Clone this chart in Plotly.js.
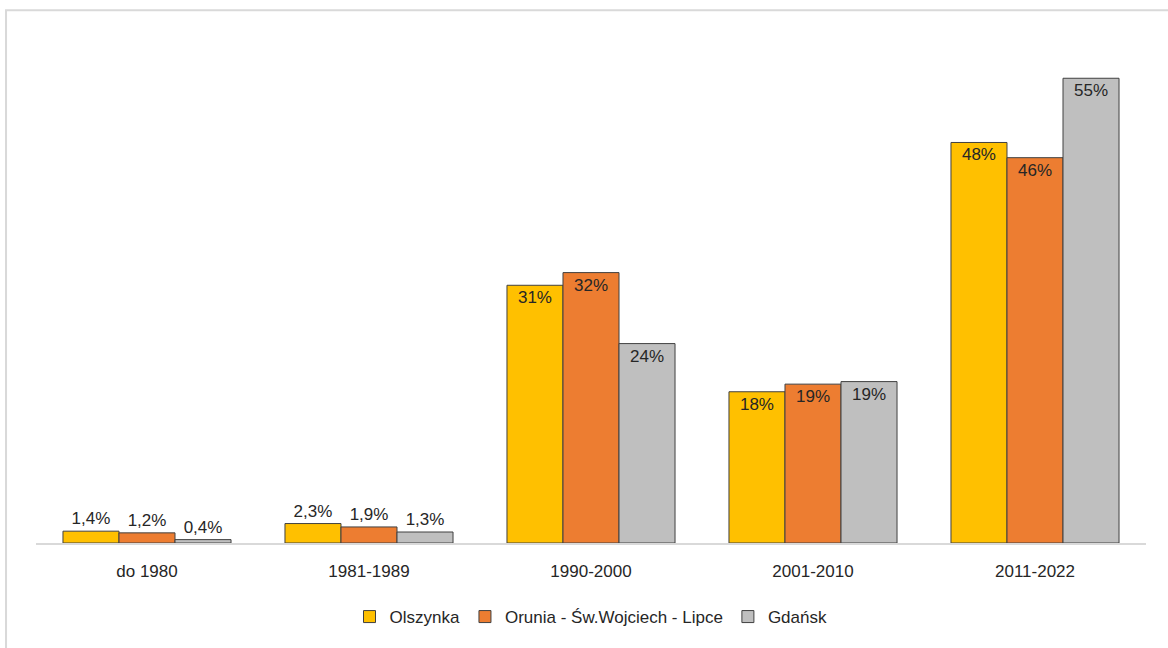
<!DOCTYPE html>
<html><head><meta charset="utf-8">
<script src="https://cdn.plot.ly/plotly-3.0.1.min.js"></script>
<style>html,body{margin:0;padding:0;background:#fff}#chart{width:1168px;height:648px}</style>
</head><body><div id="chart"></div>
<script>
const categories = ["do 1980", "1981-1989", "1990-2000", "2001-2010", "2011-2022"];
const seriesNames = ["Olszynka", "Orunia - Św.Wojciech - Lipce", "Gdańsk"];
const olszynka = [1.4, 2.3, 30.5, 17.9, 47.4];
const orunia = [1.2, 1.9, 32.0, 18.8, 45.6];
const gdansk = [0.4, 1.3, 23.6, 19.1, 55.0];
const olszynkaLabels = ["1,4%", "2,3%", "31%", "18%", "48%"];
const oruniaLabels = ["1,2%", "1,9%", "32%", "19%", "46%"];
const gdanskLabels = ["0,4%", "1,3%", "24%", "19%", "55%"];
const colors = ["#FFC000", "#ED7D31", "#BFBFBF"];

const FONT = "'Liberation Sans Narrow', 'Arial Narrow', 'Liberation Sans', Arial, sans-serif";
const pos = ["outside", "outside", "inside", "inside", "inside"];

function mk(name, y, labels, color) {
  return {
    type: "bar", name: name, x: categories, y: y,
    text: labels, textposition: pos, texttemplate: "%{text}",
    insidetextanchor: "end", cliponaxis: false,
    textfont: {family: FONT, size: 17, color: "#262626"},
    insidetextfont: {family: FONT, size: 17, color: "#262626"},
    outsidetextfont: {family: FONT, size: 17, color: "#262626"},
    marker: {color: color, line: {color: "#404040", width: 1}},
    hoverinfo: "skip"
  };
}

const data = [
  mk(seriesNames[0], olszynka, olszynkaLabels, colors[0]),
  mk(seriesNames[1], orunia, oruniaLabels, colors[1]),
  mk(seriesNames[2], gdansk, gdanskLabels, colors[2])
];

const layout = {
  width: 1168, height: 648,
  margin: {l: 36, r: 22, t: 36, b: 105},
  paper_bgcolor: "#fff", plot_bgcolor: "#fff",
  barmode: "group", bargap: 0.243, bargroupgap: 0,
  font: {family: FONT, size: 17, color: "#262626"},
  xaxis: {
    showline: true, linecolor: "#d9d9d9", linewidth: 2,
    ticks: "", ticklabelstandoff: 12,
    tickfont: {family: FONT, size: 17, color: "#262626"},
    fixedrange: true
  },
  yaxis: {
    range: [0, 60], visible: false, showgrid: false, zeroline: false, fixedrange: true
  },
  showlegend: true,
  legend: {
    orientation: "h", x: 0.5, xanchor: "center", y: -0.146, yanchor: "middle",
    font: {family: FONT, size: 17, color: "#262626"}, itemwidth: 30, tracegroupgap: 0
  },
  shapes: [{
    type: "rect", xref: "paper", yref: "paper",
    x0: -0.027, x1: 1.05, y0: -0.4, y1: 1.051,
    line: {color: "#d9d9d9", width: 2}, fillcolor: "rgba(0,0,0,0)", layer: "below"
  }]
};

Plotly.newPlot("chart", data, layout, {displayModeBar: false, staticPlot: true});
</script></body></html>
